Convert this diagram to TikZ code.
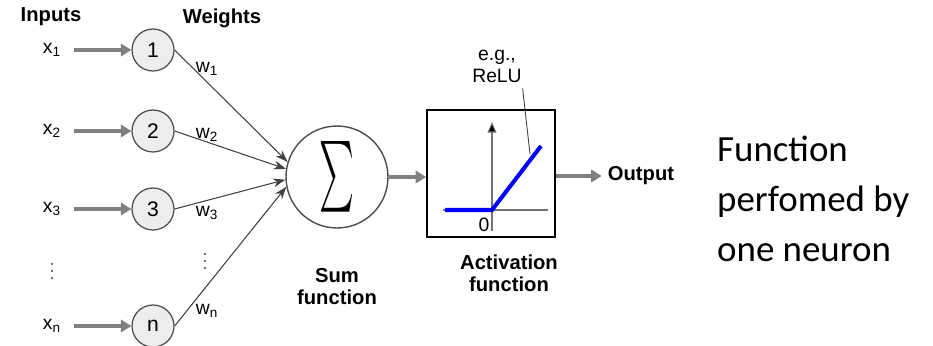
\documentclass[tikz,border=0pt]{standalone}
\usepackage{graphicx}
\usepackage{fontspec}
\setmainfont{Liberation Sans}
\newfontfamily\calib{Carlito}
\usetikzlibrary{arrows.meta}

\tikzset{
  inp/.style={circle, draw=black!70, fill=black!7, line width=0.7pt, minimum size=0.84cm, inner sep=0pt, font=\fontsize{12}{14}\selectfont},
  fat/.style={draw=black!50, line width=2.2pt, -{Triangle[length=6pt,width=7pt]}},
  wgt/.style={draw=black!75, line width=0.6pt, -{Stealth[length=7pt,width=5pt]}},
  lbl/.style={font=\fontsize{11.5}{12.5}\selectfont\bfseries, align=center},
  txt/.style={font=\fontsize{11}{12.5}\selectfont, align=center}
}

\begin{document}
\begin{tikzpicture}[x=0.02cm,y=-0.02cm]
\useasboundingbox (0,0) rectangle (933,345);

\node[lbl] (inputs) at (51,17) {Inputs};
\node[lbl] (weights) at (222,18) {Weights};

% sum unit
\node[circle, draw=black!70, fill=white, line width=0.8pt, minimum size=2.04cm, inner sep=0pt] (sum) at (337,177) {\resizebox{0.7cm}{1.06cm}{$\sum$}};
\node[lbl] (sumlbl) at (337,287) {Sum\\function};

% inputs and weights
\foreach \n/\y/\k/\wy/\ang in {1/50/1/69/163, 2/131/2/135/171, 3/209/3/213/183, 4/326/n/311/191} {
    \node[txt] (x\n) at (52,\y) {x\textsubscript{\k}};
    \node[inp] (c\n) at (153,\y) {\k};
    \draw[fat, shorten <=4pt] (x\n) -- (c\n);
    \node[txt] (w\n) at (207,\wy) {w\textsubscript{\k}};
    \draw[wgt] (c\n.east) -- (sum.\ang);
}
\node[txt, text=black!60] (xdots) at (52,266) {$\vdots$};
\node[txt, text=black!60] (wdots) at (205,256) {$\vdots$};

% activation
\node[draw, line width=1pt, minimum width=2.56cm, minimum height=2.54cm] (act) at (491,173.5) {};
\draw[fat] (sum.east) -- (sum.east -| act.west);
\coordinate (o) at (492,210);
\draw[black!55, line width=0.6pt] (443,210) -- (548,210);
\draw[black!55, line width=0.6pt, -{Triangle[length=6pt,width=5pt,fill=black]}] (492,231) -- (492,122);
\draw[blue, line width=2.3pt] (445,210) -- (o) -- (541,146);
\node[txt] (zero) at (484,225) {0};
\node[txt] (relu) at (497,66) {e.g.,\\ReLU};
\coordinate (rp) at (530,154);
\draw[black!75, line width=0.5pt] ([xshift=-3pt]relu.south east) -- (rp);
\node[lbl] (actlbl) at (509,273) {Activation\\function};

% output
\node[lbl] (out) at (641,176) {Output};
\draw[fat] (out -| act.east) -- (out.west);

\node[font=\calib\fontsize{21}{28.5}\selectfont, align=left, anchor=west] (note) at (711,199) {Function\\perfomed by\\one neuron};
\end{tikzpicture}
\end{document}
